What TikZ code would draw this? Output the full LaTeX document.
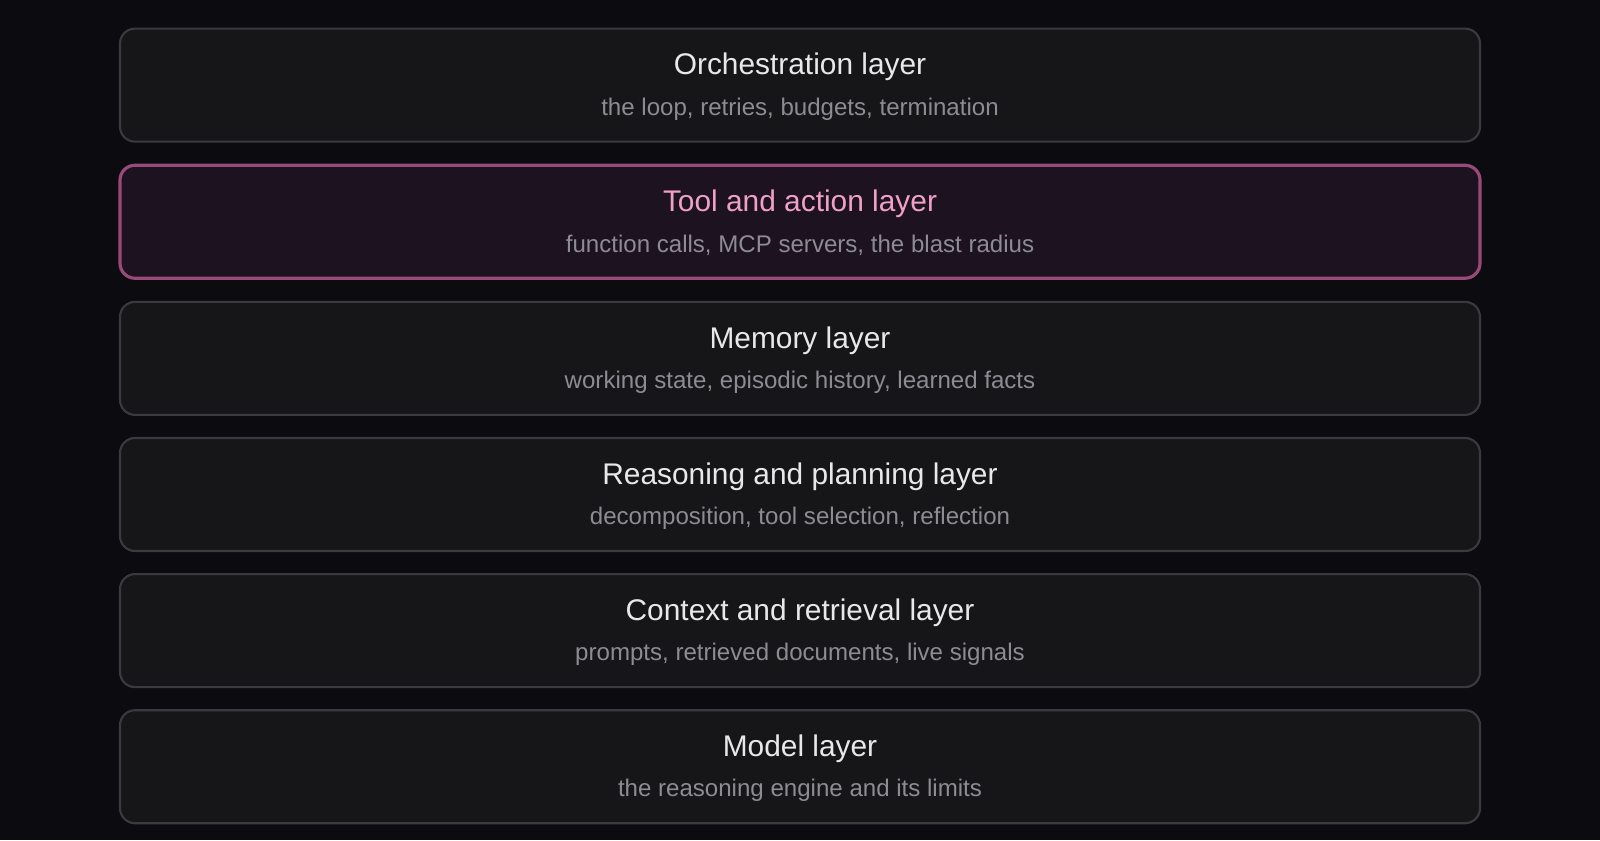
\documentclass[tikz,border=0pt]{standalone}
\usepackage{fontspec}
\setmainfont{Liberation Sans}
\usetikzlibrary{positioning}
\definecolor{bgdark}{HTML}{0B0B10}
\definecolor{boxfill}{HTML}{161619}
\definecolor{boxline}{HTML}{3A3A3F}
\definecolor{hotfill}{HTML}{1C1220}
\definecolor{hotline}{HTML}{9A4A7A}
\definecolor{hottext}{HTML}{F0A0C8}
\definecolor{titletext}{HTML}{E8E8EA}
\definecolor{subtext}{HTML}{8C8C92}

\begin{document}
\begin{tikzpicture}[
        layer/.style={rectangle, draw=boxline, line width=0.6pt, rounded corners=0.15cm, fill=boxfill, minimum width=13.6cm, minimum height=1.13cm},
        hotlayer/.style={layer, draw=hotline, line width=0.9pt, fill=hotfill},
        title/.style={text=titletext, font=\fontsize{8.5pt}{10pt}\selectfont},
        hottitle/.style={title, text=hottext},
        sub/.style={text=subtext, font=\fontsize{6.85pt}{8pt}\selectfont},
        node distance=0.21cm
        ]

        % Background
        \fill[bgdark] (0,0) rectangle (16,-8.4);
        \useasboundingbox (0,0) rectangle (16,-8.4);

        % Layers
        \node (orch) [layer] at (8.0,-0.851) {};
        \node (tool) [hotlayer, below=of orch] {};
        \node (mem) [layer, below=of tool] {};
        \node (reason) [layer, below=of mem] {};
        \node (context) [layer, below=of reason] {};
        \node (model) [layer, below=of context] {};

        % Labels
        \node (orchT) [title, yshift=0.18cm] at (orch) {Orchestration layer};
        \node (orchS) [sub, yshift=-0.24cm] at (orch) {the loop, retries, budgets, termination};
        \node (toolT) [hottitle, yshift=0.18cm] at (tool) {Tool and action layer};
        \node (toolS) [sub, yshift=-0.24cm] at (tool) {function calls, MCP servers, the blast radius};
        \node (memT) [title, yshift=0.18cm] at (mem) {Memory layer};
        \node (memS) [sub, yshift=-0.24cm] at (mem) {working state, episodic history, learned facts};
        \node (reasonT) [title, yshift=0.18cm] at (reason) {Reasoning and planning layer};
        \node (reasonS) [sub, yshift=-0.24cm] at (reason) {decomposition, tool selection, reflection};
        \node (contextT) [title, yshift=0.18cm] at (context) {Context and retrieval layer};
        \node (contextS) [sub, yshift=-0.24cm] at (context) {prompts, retrieved documents, live signals};
        \node (modelT) [title, yshift=0.18cm] at (model) {Model layer};
        \node (modelS) [sub, yshift=-0.24cm] at (model) {the reasoning engine and its limits};

    \end{tikzpicture}
\end{document}
